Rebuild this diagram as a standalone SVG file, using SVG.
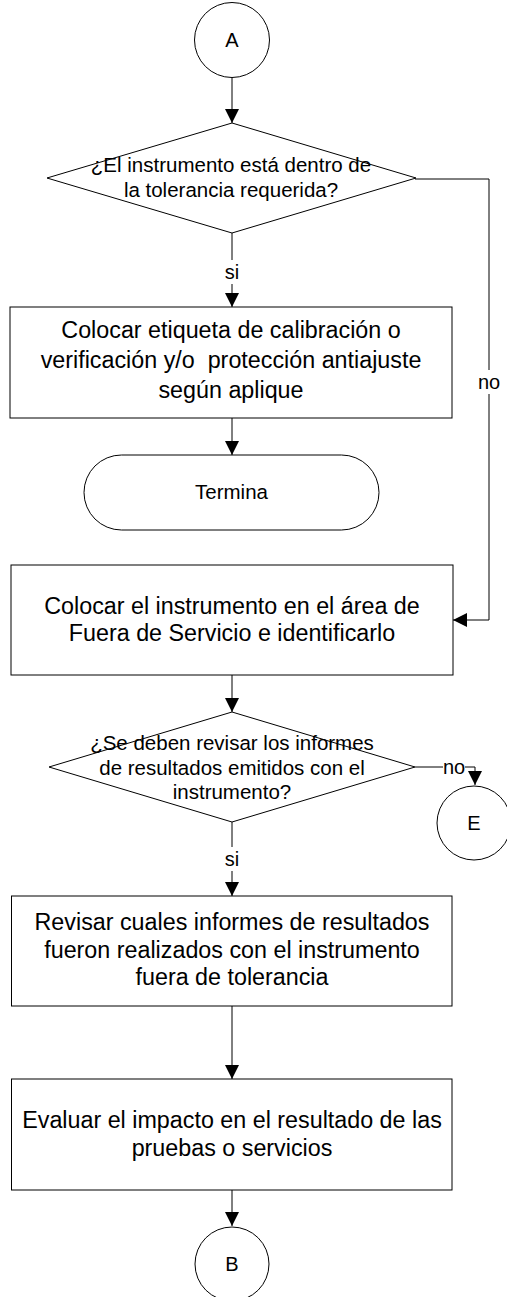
<svg xmlns="http://www.w3.org/2000/svg" width="507" height="1297" viewBox="0 0 507 1297">
<style>
.s{fill:#fff;stroke:#000;stroke-width:1}
.c{fill:none;stroke:#000;stroke-width:1}
.t{font-family:"Liberation Sans",Arial,sans-serif;fill:#000;text-anchor:middle}
.b{font-size:23.3px}
.d{font-size:20.5px}
.l{font-size:20px}
.bg{fill:#fff;stroke:none}
</style>
<defs>
<marker id="ar" viewBox="0 0 14 14" refX="14" refY="7" markerWidth="14" markerHeight="14" markerUnits="userSpaceOnUse" orient="auto">
<path d="M0,0 L14,7 L0,14 z" fill="#000"/>
</marker>
</defs>
<rect width="507" height="1297" fill="#fff"/>
<g id="connectors">
<line class="c" x1="232" y1="78" x2="232" y2="123" marker-end="url(#ar)"/>
<line class="c" x1="232" y1="233" x2="232" y2="307" marker-end="url(#ar)"/>
<polyline class="c" points="415,179 489,179 489,620 453,620" marker-end="url(#ar)"/>
<line class="c" x1="232" y1="418" x2="232" y2="455" marker-end="url(#ar)"/>
<line class="c" x1="232" y1="675" x2="232" y2="712" marker-end="url(#ar)"/>
<polyline class="c" points="415,767 475,767 475,785" marker-end="url(#ar)"/>
<line class="c" x1="232" y1="822" x2="232" y2="896" marker-end="url(#ar)"/>
<line class="c" x1="232" y1="1006" x2="232" y2="1079" marker-end="url(#ar)"/>
<line class="c" x1="232" y1="1190" x2="232" y2="1226" marker-end="url(#ar)"/>
<rect class="bg" x="222" y="260" width="20" height="24"/>
<text class="t l" x="232" y="279">si</text>
<rect class="bg" x="477" y="370" width="24" height="24"/>
<text class="t l" x="489" y="389">no</text>
<rect class="bg" x="443" y="758" width="22" height="20"/>
<text class="t l" x="454" y="774">no</text>
<rect class="bg" x="222" y="847" width="20" height="24"/>
<text class="t l" x="232" y="866">si</text>
</g>
<g id="nodeA">
<circle class="s" cx="232" cy="40" r="37.5"/>
<text class="t l" x="232" y="47">A</text>
</g>
<g id="decision1">
<polygon class="s" points="232,123 416,178 232,233 47,178"/>
<text class="t d" x="231" y="172">¿El instrumento está dentro de</text>
<text class="t d" x="231" y="197">la tolerancia requerida?</text>
</g>
<g id="box1">
<rect class="s" x="10" y="307" width="442" height="111"/>
<text class="t b" x="231" y="338">Colocar etiqueta de calibración o</text>
<text class="t b" x="231" y="368" xml:space="preserve">verificación y/o  protección antiajuste</text>
<text class="t b" x="231" y="398">según aplique</text>
</g>
<g id="terminal">
<rect class="s" x="84" y="455" width="295" height="75" rx="37.5" ry="37.5"/>
<text class="t d" x="231.5" y="499">Termina</text>
</g>
<g id="box2">
<rect class="s" x="11" y="565" width="442" height="110"/>
<text class="t b" x="232" y="614">Colocar el instrumento en el área de</text>
<text class="t b" x="232" y="641">Fuera de Servicio e identificarlo</text>
</g>
<g id="decision2">
<polygon class="s" points="232,712 415,767 232,822 49,767"/>
<text class="t d" x="232" y="750">¿Se deben revisar los informes</text>
<text class="t d" x="232" y="775">de resultados emitidos con el</text>
<text class="t d" x="232" y="799">instrumento?</text>
</g>
<g id="nodeE">
<circle class="s" cx="474" cy="823" r="37"/>
<text class="t l" x="474" y="830">E</text>
</g>
<g id="box3">
<rect class="s" x="11.5" y="896" width="440.5" height="110"/>
<text class="t b" x="232" y="930">Revisar cuales informes de resultados</text>
<text class="t b" x="232" y="958">fueron realizados con el instrumento</text>
<text class="t b" x="232" y="985">fuera de tolerancia</text>
</g>
<g id="box4">
<rect class="s" x="11.5" y="1079" width="440.5" height="111"/>
<text class="t b" x="232" y="1128">Evaluar el impacto en el resultado de las</text>
<text class="t b" x="232" y="1156">pruebas o servicios</text>
</g>
<g id="nodeB">
<circle class="s" cx="232" cy="1264" r="37"/>
<text class="t l" x="232" y="1271">B</text>
</g>
</svg>
